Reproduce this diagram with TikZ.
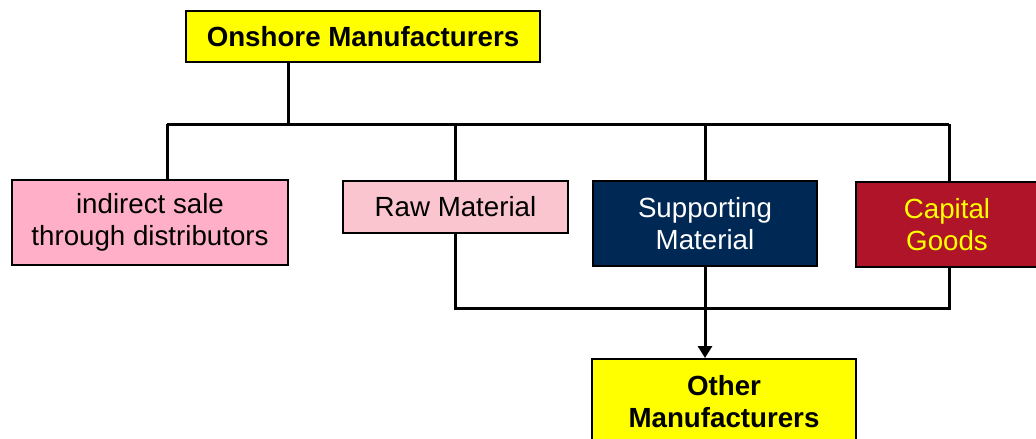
\documentclass[tikz,border=0pt]{standalone}
\usepackage{fontspec}
\setmainfont{Liberation Sans}
\usetikzlibrary{arrows.meta}
\definecolor{ylw}{RGB}{255,255,0}
\definecolor{pinkA}{RGB}{255,176,200}
\definecolor{pinkB}{RGB}{250,197,206}
\definecolor{navy}{RGB}{0,40,85}
\definecolor{crim}{RGB}{175,20,40}
\tikzset{
  box/.style={draw=black, line width=2pt, align=center, inner sep=0pt,
    font=\fontsize{27.7}{32.5}\selectfont},
  conn/.style={line width=3pt, draw=black}
}
\begin{document}
\begin{tikzpicture}[x=1pt,y=-1pt]
\useasboundingbox (0,0) rectangle (1036,439);
\node[box, fill=ylw, minimum width=354pt, minimum height=51pt, font=\fontsize{27.7}{32.5}\selectfont\bfseries] (on) at (363,36.5) {Onshore Manufacturers};
\node[box, fill=pinkA, minimum width=276pt, minimum height=85pt] (ind) at (150,222.5) {indirect sale\\through distributors};
\node[box, fill=pinkB, minimum width=225pt, minimum height=52pt] (raw) at (455.5,207) {Raw Material};
\node[box, fill=navy, text=white, minimum width=224pt, minimum height=85pt] (sup) at (705,223.5) {Supporting\\Material};
\node[box, fill=crim, text=ylw, minimum width=182pt, minimum height=85pt] (cap) at (947,224.5) {Capital\\Goods};
\node[box, fill=ylw, minimum width=264pt, minimum height=85pt, font=\fontsize{27.7}{32.5}\selectfont\bfseries] (oth) at (724,401.5) {Other\\Manufacturers};
\coordinate (b0) at (288,124);
\coordinate (b1) at (167,124);
\coordinate (b2) at (455.5,124);
\coordinate (b3) at (705,124);
\coordinate (b4) at (949,124);
\coordinate (l1) at (455.5,308);
\coordinate (l4) at (949,308);
\draw[conn] (on.south -| b0) -- (b0);
\draw[conn] (b1) -- (b4);
\draw[conn] (b1) -- (b1 |- ind.north);
\draw[conn] (b2) -- (b2 |- raw.north);
\draw[conn] (b3) -- (b3 |- sup.north);
\draw[conn] (b4) -- (b4 |- cap.north);
\draw[conn] (raw.south) -- (l1) -- (l4) -- (l4 |- cap.south);
\draw[conn, -{Triangle[length=12pt,width=14pt]}] (sup.south) -- (sup.south |- oth.north);
\end{tikzpicture}
\end{document}
